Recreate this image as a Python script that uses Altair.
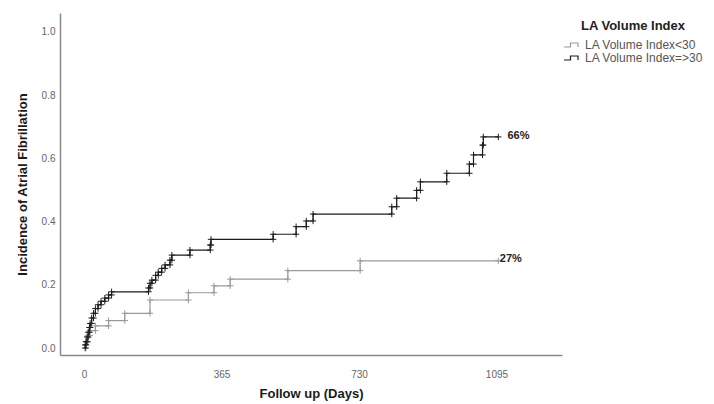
import altair as alt
import pandas as pd

# ---- data ----
groups = ["LA Volume Index<30", "LA Volume Index=>30"]

black_days = [0, 3, 5, 8, 11, 14, 16, 20, 25, 30, 37, 45, 55, 65, 73,
              171, 175, 180, 190, 197, 206, 215, 228, 233, 281, 335, 337,
              502, 563, 590, 608, 817, 830, 883, 893, 963, 1023, 1034, 1058, 1060]
black_inc = [0, 0.01, 0.02, 0.035, 0.05, 0.065, 0.078, 0.095, 0.11, 0.125, 0.137, 0.148, 0.158, 0.168, 0.178,
             0.19, 0.205, 0.215, 0.23, 0.24, 0.252, 0.263, 0.278, 0.294, 0.31, 0.326, 0.344,
             0.36, 0.384, 0.402, 0.424, 0.447, 0.474, 0.499, 0.526, 0.553, 0.582, 0.611, 0.642, 0.668]
black_end = 1100

gray_days = [0, 5, 10, 15, 30, 65, 108, 175, 277, 345, 388, 541, 733]
gray_inc = [0, 0.02, 0.04, 0.055, 0.07, 0.087, 0.11, 0.152, 0.175, 0.197, 0.218, 0.245, 0.276]
gray_end = 1100

end_labels = ["27%", "66%"]
end_label_days = [1104, 1124]
end_label_inc = [0.282, 0.67]

x_ticks = [0, 365, 730, 1095]
y_ticks = [0.0, 0.2, 0.4, 0.6, 0.8, 1.0]

# ---- tables ----
rows, cens = [], []
for g, days, inc, end in [(groups[0], gray_days, gray_inc, gray_end),
                          (groups[1], black_days, black_inc, black_end)]:
    for d, v in zip(days, inc):
        rows.append({"group": g, "day": d, "inc": v})
    rows.append({"group": g, "day": end, "inc": inc[-1]})
    for i in range(1, len(days)):
        cens.append({"group": g, "day": days[i], "inc": inc[i - 1]})
        cens.append({"group": g, "day": days[i], "inc": inc[i]})
    cens.append({"group": g, "day": end, "inc": inc[-1]})
lines_df = pd.DataFrame(rows)
cens_df = pd.DataFrame(cens)
lab_df = pd.DataFrame({"label": end_labels, "day": end_label_days, "inc": end_label_inc})

colors = ["#9a9a9a", "#1c1c1c"]
xscale = alt.Scale(domain=[-64, 1269], nice=False, zero=False)
yscale = alt.Scale(domain=[-0.022, 1.06], nice=False, zero=False)
cscale = alt.Scale(domain=groups, range=colors)

xax = alt.Axis(values=x_ticks, format="d", title="Follow up (Days)", titleFontSize=13,
               titleFontWeight="bold", titleColor="#1a1a1a", titlePadding=8,
               labelFontSize=10, labelColor="#666", labelPadding=14)
yax = alt.Axis(values=y_ticks, format=".1f", title="Incidence of Atrial Fibrillation",
               titleFontSize=13, titleFontWeight="bold", titleColor="#1a1a1a",
               titlePadding=12, labelFontSize=10, labelColor="#666", labelPadding=5)

base = alt.Chart(lines_df)
line = base.mark_line(interpolate="step-after", strokeWidth=1.2).encode(
    x=alt.X("day:Q", scale=xscale, axis=xax),
    y=alt.Y("inc:Q", scale=yscale, axis=yax),
    color=alt.Color("group:N", scale=cscale, legend=alt.Legend(
        title="LA Volume Index", orient="none", legendX=503, legendY=7,
        titleFontSize=13, titleFontWeight="bold", titleColor="#222",
        titleAnchor="middle", titleAlign="center", titlePadding=6,
        labelFontSize=12, labelColor="#555", rowPadding=1,
        symbolType="M-1.8,0.4H-0.5V-0.4H1V0.4", symbolSize=100,
        symbolStrokeWidth=1.2, symbolOffset=4, labelOffset=6)),
)

marks = alt.Chart(cens_df).mark_point(shape="M-1,0H1M0,-1V1", size=40,
                                      filled=False, strokeWidth=1, opacity=1).encode(
    x=alt.X("day:Q", scale=xscale),
    y=alt.Y("inc:Q", scale=yscale),
    color=alt.Color("group:N", scale=cscale, legend=None),
)

labels = alt.Chart(lab_df).mark_text(align="left", baseline="middle", fontSize=11,
                                     fontWeight="bold", color="#222").encode(
    x=alt.X("day:Q", scale=xscale),
    y=alt.Y("inc:Q", scale=yscale),
    text="label:N",
)

chart = alt.layer(line, marks, labels).properties(
    width=502, height=342,
    autosize=alt.AutoSizeParams(type="none"),
    padding={"left": 60, "top": 13, "right": 152, "bottom": 49},
).configure(font="Liberation Sans").configure_view(stroke=None).configure_axis(
    grid=False, ticks=False, domainColor="#8a8a8a", domainWidth=1.5,
)

chart.save("out.html", embed_options={"renderer": "svg", "actions": False})
